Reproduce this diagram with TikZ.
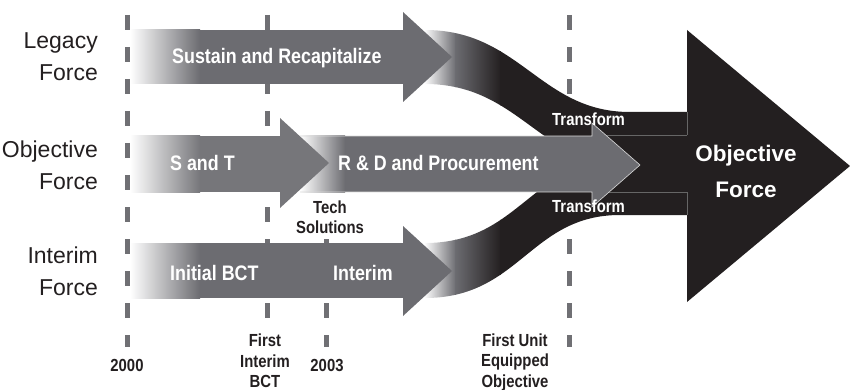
\documentclass[tikz,border=0pt]{standalone}
\usepackage{fontspec}
\setmainfont{Liberation Sans}
\newfontfamily\condsf{Liberation Sans}[FakeStretch=0.85]
\usetikzlibrary{calc}

\definecolor{arrowgray}{RGB}{108,108,113}
\definecolor{sandtgray}{RGB}{118,118,122}
\definecolor{inkblack}{RGB}{35,31,32}
\definecolor{dashgray}{RGB}{112,112,116}

\begin{document}
\begin{tikzpicture}[x=1pt, y=-1pt,
  milestone/.style={draw=dashgray, line width=5pt, dash pattern=on 15pt off 17pt},
  fadein/.style={left color=white, right color=#1},
  forcelabel/.style={anchor=east, align=right, inner sep=0pt, text=inkblack,
    font=\fontsize{23}{32}\selectfont},
  barlabel/.style={anchor=base west, inner sep=0pt, text=white,
    font=\condsf\bfseries\fontsize{21}{24}\selectfont},
  turnlabel/.style={anchor=base west, inner sep=0pt, text=white,
    font=\condsf\bfseries\fontsize{17.5}{20}\selectfont},
  goallabel/.style={align=center, inner sep=0pt, text=white,
    font=\bfseries\fontsize{22.5}{36}\selectfont},
  datelabel/.style={align=center, inner sep=0pt, text=inkblack,
    font=\condsf\bfseries\fontsize{17.5}{20.5}\selectfont}
]
\useasboundingbox (0,0) rectangle (850,390);

% milestones
\draw[milestone] (127,15) -- (127,347);
\draw[milestone] (267,15) -- (267,320);
\draw[milestone] (326,239) -- (326,347);
\draw[milestone] (569,15) -- (569,347);

% legacy band, fading into black
\begin{scope}
  \clip (425,30) .. controls (520,30) and (540,112) .. (630,112) -- (690,112)
    -- (690,166) -- (630,166) .. controls (540,166) and (520,84) .. (425,84) -- cycle;
  \shade[fadein=arrowgray] (424,0) rectangle (456,390);
  \shade[left color=arrowgray, right color=inkblack] (455,0) rectangle (501,390);
  \fill[inkblack] (500,0) rectangle (690,390);
\end{scope}

% interim band, fading into black
\begin{scope}
  \clip (425,243) .. controls (520,243) and (530,161) .. (620,161) -- (690,161)
    -- (690,215) -- (620,215) .. controls (530,215) and (520,298) .. (425,298) -- cycle;
  \shade[fadein=arrowgray] (424,0) rectangle (456,390);
  \shade[left color=arrowgray, right color=inkblack] (455,0) rectangle (501,390);
  \fill[inkblack] (500,0) rectangle (690,390);
\end{scope}

% objective force
\fill[inkblack] (592,135) rectangle (690,192);
\fill[inkblack] (687,30) -- (850,166) -- (687,302) -- cycle;
\draw[black!60, line width=0.4pt] (592,135) -- (687,135) (592,192) -- (687,192)
  (687,112) -- (687,135) (687,192) -- (687,215);

% R & D
\fill[arrowgray] (300,136) rectangle (593,192);
\shade[fadein=arrowgray] (300,136) rectangle (345,192);
\fill[arrowgray] (592,123) -- (640,165) -- (592,207) -- cycle;
\draw[white!85!black, line width=0.6pt] (300,136) -- (592,136) -- (592,123) -- (640,165)
  -- (592,207) -- (592,192) -- (300,192);

% S and T
\fill[sandtgray] (130,136) rectangle (281,192);
\shade[fadein=sandtgray] (130,136) rectangle (200,192);
\fill[sandtgray] (280,118) -- (329,163) -- (280,208) -- cycle;

% legacy
\fill[arrowgray] (130,30) rectangle (404,84);
\shade[fadein=arrowgray] (130,30) rectangle (200,84);
\fill[arrowgray] (403,12) -- (452,57) -- (403,102) -- cycle;

% interim
\fill[arrowgray] (130,243) rectangle (404,298);
\shade[fadein=arrowgray] (130,243) rectangle (200,298);
\fill[arrowgray] (403,226) -- (452,271) -- (403,316) -- cycle;

% labels
\node[forcelabel] (legacy) at (98,57) {Legacy\\Force};
\node[forcelabel] (objective) at (98,165) {Objective\\Force};
\node[forcelabel] (interim) at (98,271) {Interim\\Force};

\node[barlabel] (sustain) at (172,64) {Sustain and Recapitalize};
\node[barlabel] (sandt) at (170,171) {S and T};
\node[barlabel] (rnd) at (338,171) {R \& D and Procurement};
\node[barlabel] (initial) at (170,280) {Initial BCT};
\node[barlabel] (interimbar) at (333,280) {Interim};
\node[turnlabel] (turnup) at (552,126) {Transform};
\node[turnlabel] (turndown) at (552,212) {Transform};
\node[goallabel] (goal) at (746,171) {Objective\\Force};

\node[datelabel] (tech) at (330,217) {Tech\\Solutions};
\node[datelabel, anchor=base] (y2000) at (127,371) {2000};
\node[datelabel, anchor=base] (y2003) at (327,371) {2003};
\node[datelabel] (firstbct) at (265,361) {First\\Interim\\BCT};
\node[datelabel] (firstunit) at (515,362) {First Unit\\Equipped\\Objective};
\end{tikzpicture}
\end{document}
